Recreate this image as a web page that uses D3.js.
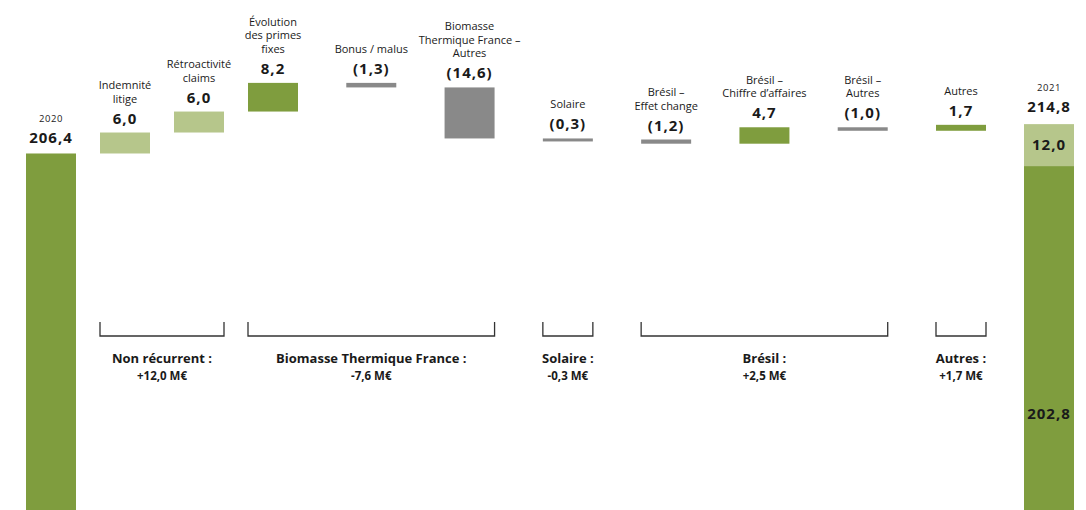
<!DOCTYPE html>
<meta charset="utf-8">
<style>
 body { margin: 0; background: #fff; }
 text { font-family: "Open Sans", sans-serif; fill: #1a1a1a; }
 .cat { font-size: 11px; }
 .val { font-size: 15px; font-weight: 700; letter-spacing: 1px; }
 .year { font-size: 9.5px; letter-spacing: 0.6px; }
 .grp { font-size: 13px; font-weight: 700; }
 .amt { font-size: 11.5px; font-weight: 700; }
 .bracket { fill: none; stroke: #333; stroke-width: 1.3px; }
</style>

<svg class="waterfall"></svg>

<script src="https://cdn.jsdelivr.net/npm/d3@7"></script>

<script>
 var width = 1086, height = 510;

 // years
 var startYear = "2020", startValue = 206.4;
 var endYear = "2021", endRecurring = 202.8, endNonRecurring = 12.0;

 // waterfall steps
 var stepLabels = ["Indemnité\nlitige", "Rétroactivité\nclaims", "Évolution\ndes primes\nfixes",
                   "Bonus / malus", "Biomasse\nThermique France –\nAutres", "Solaire",
                   "Brésil –\nEffet change", "Brésil –\nChiffre d’affaires", "Brésil –\nAutres", "Autres"];
 var stepValues = [6.0, 6.0, 8.2, -1.3, -14.6, -0.3, -1.2, 4.7, -1.0, 1.7];
 var stepNonRecurring = [true, true, false, false, false, false, false, false, false, false];

 // brackets under the steps
 var groupNames = ["Non récurrent :", "Biomasse Thermique France :", "Solaire :", "Brésil :", "Autres :"];
 var groupAmounts = ["+12,0 M€", "-7,6 M€", "-0,3 M€", "+2,5 M€", "+1,7 M€"];
 var groupFirst = [0, 2, 5, 6, 9];
 var groupLast = [1, 4, 5, 8, 9];

 var colDark = "#7f9d3e", colLight = "#b6c68b", colGrey = "#898989";
 var barW = 50;

 var svg = d3.select(".waterfall").attr("width", width).attr("height", height);

 var fmt = d3.format(".1f");
 function fr(v) {
     var s = fmt(Math.abs(v)).replace(".", ",");
     return v < 0 ? "(" + s + ")" : s;
 }

 // bar index -> centre (the first steps sit closer together, the total a bit closer too)
 var x = d3.scaleLinear().domain([0, 3, 10, 11]).range([51, 273, 961, 1049]);
 // broken value axis: bars are cut at the bottom edge
 var y = d3.scaleLinear().domain([104.4, 230]).range([height, 71]);

 // build the step table
 var run = startValue;
 var steps = stepValues.map(function(v, i) {
     var from = run;
     run = run + v;
     return { i: i + 1, label: stepLabels[i], value: v, from: from, to: run,
              color: stepNonRecurring[i] ? colLight : (v >= 0 ? colDark : colGrey) };
 });

 // start bar
 svg.append("rect")
     .attr("x", x(0) - barW / 2).attr("width", barW)
     .attr("y", y(startValue)).attr("height", height - y(startValue))
     .attr("fill", colDark);

 // end bar, recurring + non recurring
 var endTotal = endRecurring + endNonRecurring;
 svg.append("rect")
     .attr("x", x(11) - barW / 2).attr("width", barW)
     .attr("y", y(endRecurring)).attr("height", height - y(endRecurring))
     .attr("fill", colDark);
 svg.append("rect")
     .attr("x", x(11) - barW / 2).attr("width", barW)
     .attr("y", y(endTotal)).attr("height", y(endRecurring) - y(endTotal))
     .attr("fill", colLight);

 svg.append("text").attr("class", "val").attr("text-anchor", "middle")
     .attr("x", x(11)).attr("y", (y(endRecurring) + y(endTotal)) / 2 + 5)
     .text(fr(endNonRecurring));
 svg.append("text").attr("class", "val").attr("text-anchor", "middle")
     .attr("x", x(11)).attr("y", y(endRecurring) + 0.72 * (height - y(endRecurring)) + 5)
     .text(fr(endRecurring));

 // year labels
 [[0, startYear, startValue, 10], [11, endYear, endTotal, 12]].forEach(function(d) {
     var top = y(d[2]);
     svg.append("text").attr("class", "val").attr("text-anchor", "middle")
         .attr("x", x(d[0])).attr("y", top - d[3]).text(fr(d[2]));
     svg.append("text").attr("class", "year").attr("text-anchor", "middle")
         .attr("x", x(d[0])).attr("y", top - d[3] - 21).text(d[1]);
 });

 // step bars
 var g = svg.selectAll(".step").data(steps).enter().append("g").attr("class", "step");

 g.append("rect")
     .attr("x", function(d) { return x(d.i) - barW / 2; })
     .attr("width", barW)
     .attr("y", function(d) { return y(Math.max(d.from, d.to)); })
     .attr("height", function(d) { return Math.max(3, Math.abs(y(d.from) - y(d.to))); })
     .attr("fill", function(d) { return d.color; });

 g.append("text").attr("class", "val").attr("text-anchor", "middle")
     .attr("x", function(d) { return x(d.i); })
     .attr("y", function(d) { return y(Math.max(d.from, d.to)) - 9; })
     .text(function(d) { return fr(d.value); });

 g.each(function(d) {
     var lines = d.label.split("\n");
     var base = y(Math.max(d.from, d.to)) - 9 - 21;
     var t = d3.select(this).append("text").attr("class", "cat").attr("text-anchor", "middle");
     lines.forEach(function(l, k) {
         t.append("tspan").attr("x", x(d.i))
             .attr("y", base - (lines.length - 1 - k) * 13.5).text(l);
     });
 });

 // brackets and group labels
 var brTop = 322, brBot = 336;
 groupNames.forEach(function(name, k) {
     var x0 = x(groupFirst[k] + 1) - barW / 2, x1 = x(groupLast[k] + 1) + barW / 2;
     svg.append("path").attr("class", "bracket")
         .attr("d", "M" + x0 + "," + brTop + "V" + brBot + "H" + x1 + "V" + brTop);
     var cx = (x0 + x1) / 2;
     svg.append("text").attr("class", "grp").attr("text-anchor", "middle")
         .attr("x", cx).attr("y", 363).text(name);
     svg.append("text").attr("class", "amt").attr("text-anchor", "middle")
         .attr("x", cx).attr("y", 380).text(groupAmounts[k]);
 });
</script>
